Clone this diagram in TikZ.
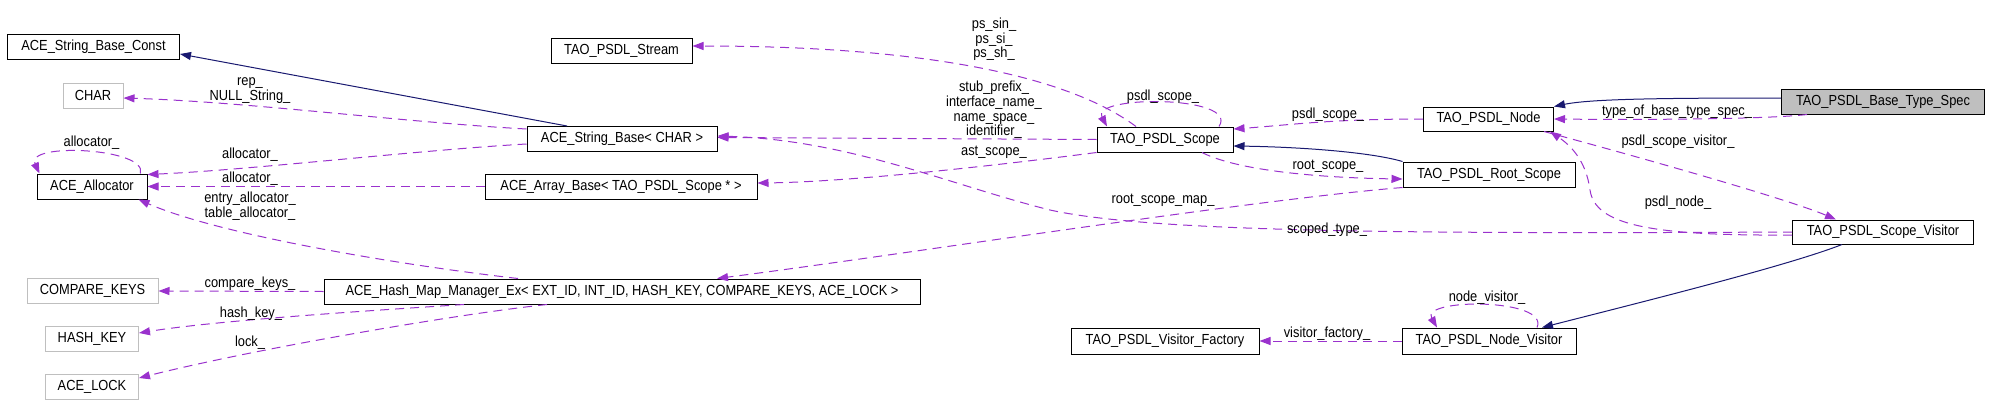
\documentclass[tikz,border=0pt]{standalone}
\usepackage{fontspec}
\setmainfont{Liberation Sans}[FakeStretch=0.88]
\usetikzlibrary{arrows.meta,calc}
\definecolor{navy}{HTML}{191970}
\definecolor{orchid}{HTML}{9A32CD}
\definecolor{lightgrey}{HTML}{BFBFBF}
\begin{document}
\begin{tikzpicture}[x=1pt, y=-1pt,
  every node/.style={font=\fontsize{14.6}{14.7}\selectfont, inner sep=0pt},
  cls/.style={draw=black, rectangle, minimum height=25, line width=1pt},
  ext/.style={cls, draw=lightgrey},
  current/.style={cls, fill=lightgrey},
  lbl/.style={align=center},
  uses/.style={draw=orchid, line width=1pt, dash pattern=on 9pt off 6pt, -{Triangle[length=11pt,width=8pt]}},
  isa/.style={draw=navy, line width=1pt, -{Triangle[length=11pt,width=8pt]}}]
\useasboundingbox (0,0) rectangle (1989,415);
\node[cls, minimum width=172] (strconst) at (93.5,46.5) {ACE\_String\_Base\_Const};
\node[ext, minimum width=60] (chr) at (93,95.5) {CHAR};
\node[cls, minimum width=110] (alloc) at (92,186.5) {ACE\_Allocator};
\node[ext, minimum width=131] (cmpkeys) at (92.5,291) {COMPARE\_KEYS};
\node[ext, minimum width=93] (hashkey) at (92,339) {HASH\_KEY};
\node[ext, minimum width=93] (lock) at (92,386.5) {ACE\_LOCK};
\node[cls, minimum width=141] (stream) at (621.5,50.5) {TAO\_PSDL\_Stream};
\node[cls, minimum width=190] (strbase) at (622,139) {ACE\_String\_Base< CHAR >};
\node[cls, minimum width=272] (arrbase) at (621,186.5) {ACE\_Array\_Base< TAO\_PSDL\_Scope * >};
\node[cls, minimum width=596] (hashmap) at (622,291.5) {ACE\_Hash\_Map\_Manager\_Ex< EXT\_ID, INT\_ID, HASH\_KEY, COMPARE\_KEYS, ACE\_LOCK >};
\node[cls, minimum width=136] (scope) at (1165,139.5) {TAO\_PSDL\_Scope};
\node[cls, minimum width=188, minimum height=26] (factory) at (1165,341) {TAO\_PSDL\_Visitor\_Factory};
\node[cls, minimum width=130, minimum height=24] (psdlnode) at (1488.5,119) {TAO\_PSDL\_Node};
\node[cls, minimum width=172] (rootscope) at (1489,174.5) {TAO\_PSDL\_Root\_Scope};
\node[cls, minimum width=174, minimum height=26] (nodevisitor) at (1489,341) {TAO\_PSDL\_Node\_Visitor};
\node[current, minimum width=203] (basespec) at (1883,101.5) {TAO\_PSDL\_Base\_Type\_Spec};
\node[cls, minimum width=181, minimum height=24] (scopevisitor) at (1883,232) {TAO\_PSDL\_Scope\_Visitor};
\draw[isa] ($(strbase.north)+(-55,0)$) -- ($(strconst.east)+(0,7.5)$);
\draw[uses] ($(strbase.west)+(0,-10)$) .. controls (400,122) and (250,102) .. ($(chr.east)+(0,2.5)$);
\draw[uses] ($(strbase.west)+(0,5)$) .. controls (420,150) and (250,170) .. ($(alloc.north east)+(0,1)$);
\draw[uses] ($(alloc.north east)+(-7,0)$) .. controls (148,148) and (25,142) .. ($(alloc.north west)+(3,0)$);
\draw[uses] (arrbase.west) -- (alloc.east);
\draw[uses] ($(hashmap.north)+(-104,0)$) .. controls (400,265) and (220,235) .. ($(alloc.south east)+(-9,0)$);
\draw[uses] (hashmap.west) -- (cmpkeys.east);
\draw[uses] ($(hashmap.south)+(-158,0)$) .. controls (380,310) and (220,320) .. ($(hashkey.east)+(0,-6)$);
\draw[uses] ($(hashmap.south)+(-75,0)$) .. controls (450,315) and (250,350) .. ($(lock.east)+(0,-8.5)$);
\draw[uses] ($(scope.north)+(-29,0)$) .. controls (1060,70) and (900,46) .. ($(stream.east)+(0,-4.5)$);
\draw[uses] (scope.west) -- ($(strbase.east)+(0,-1.5)$);
\draw[uses] ($(scope.north)+(54,0)$) .. controls (1240,95) and (1090,95) .. ($(scope.north)+(-58,0)$);
\draw[uses] (scope.south west) .. controls (1000,165) and (850,182) .. ($(arrbase.east)+(0,-3.5)$);
\draw[isa] (rootscope.north west) .. controls (1370,152) and (1300,147) .. ($(scope.east)+(0,6.5)$);
\draw[uses] ($(scope.south)+(37,0)$) .. controls (1240,172) and (1330,178) .. ($(rootscope.west)+(0,4.5)$);
\draw[uses] (rootscope.south west) .. controls (1250,200) and (900,255) .. ($(hashmap.north)+(95,0)$);
\draw[uses] (psdlnode.west) .. controls (1330,119) and (1290,125) .. ($(scope.east)+(0,-10.5)$);
\draw[isa] ($(basespec.west)+(0,-3.5)$) .. controls (1660,98) and (1590,99) .. (psdlnode.north east);
\draw[uses] ($(basespec.south)+(-76,0)$) .. controls (1770,119) and (1650,120) .. (psdlnode.east);
\draw[uses] ($(psdlnode.south)+(55.5,0)$) .. controls (1650,160) and (1790,200) .. ($(scopevisitor.north)+(-47,0)$);
\draw[uses] ($(scopevisitor.west)+(0,3)$) .. controls (1650,236) and (1595,225) .. (1590,190) .. controls (1586,160) and (1570,145) .. ($(psdlnode.south east)+(-4,0)$);
\draw[isa] ($(scopevisitor.south)+(-41,0)$) .. controls (1790,265) and (1650,300) .. ($(nodevisitor.north)+(53,0)$);
\draw[uses] ($(nodevisitor.north)+(48,0)$) .. controls (1550,298) and (1420,298) .. ($(nodevisitor.north)+(-52,0)$);
\draw[uses] (nodevisitor.west) -- (factory.east);
\draw[uses] (scopevisitor.west) .. controls (1400,234) and (1150,232) .. (1050,210) .. controls (950,185) and (850,140) .. ($(strbase.east)+(0,-3)$);
\node[lbl] (lrep) at (250,90.5) {rep\_\\NULL\_String\_};
\node[lbl] (lallocself) at (91.5,143) {allocator\_};
\node[lbl] (lallocstr) at (250,155) {allocator\_};
\node[lbl] (lallocarr) at (250,179) {allocator\_};
\node[lbl] (lallochash) at (250,206.5) {entry\_allocator\_\\table\_allocator\_};
\node[lbl] (lcmp) at (250,284) {compare\_keys\_};
\node[lbl] (lhash) at (251,314) {hash\_key\_};
\node[lbl] (llock) at (250,343) {lock\_};
\node[lbl] (lstream) at (994,39.5) {ps\_sin\_\\ps\_si\_\\ps\_sh\_};
\node[lbl] (lnames) at (994,110) {stub\_prefix\_\\interface\_name\_\\name\_space\_\\identifier\_};
\node[lbl] (last) at (994,152) {ast\_scope\_};
\node[lbl] (lscopeself) at (1163,97) {psdl\_scope\_};
\node[lbl] (lrootmap) at (1163,200) {root\_scope\_map\_};
\node[lbl] (lroot) at (1328,166) {root\_scope\_};
\node[lbl] (lscope) at (1328,115) {psdl\_scope\_};
\node[lbl] (lscoped) at (1327,230) {scoped\_type\_};
\node[lbl] (lfactory) at (1327,334) {visitor\_factory\_};
\node[lbl] (lnodevis) at (1487,298) {node\_visitor\_};
\node[lbl] (ltype) at (1677,112) {type\_of\_base\_type\_spec\_};
\node[lbl] (lscopevis) at (1678,142) {psdl\_scope\_visitor\_};
\node[lbl] (lpsdlnode) at (1678,203) {psdl\_node\_};
\end{tikzpicture}
\end{document}
